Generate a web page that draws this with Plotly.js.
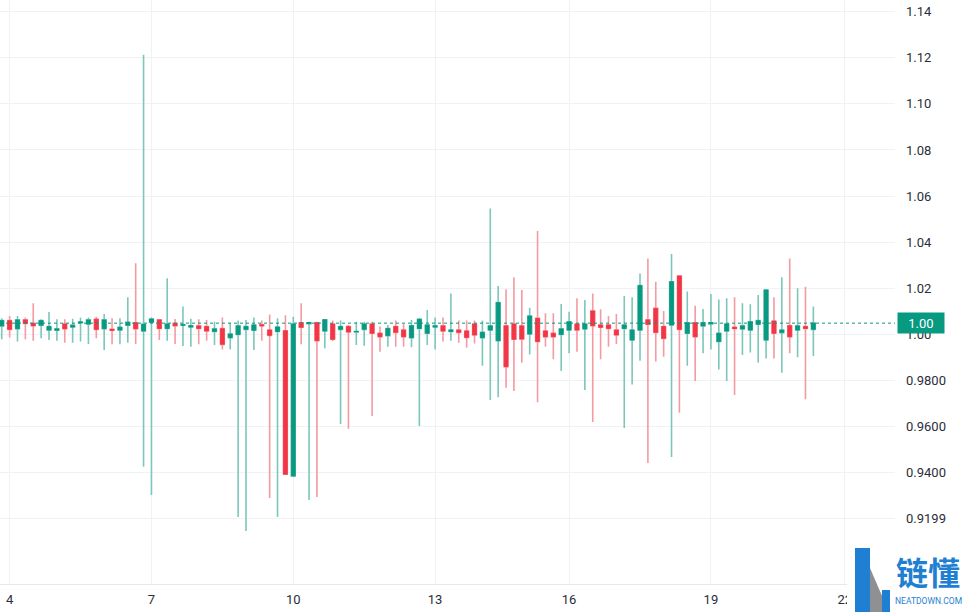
<!DOCTYPE html>
<html>
<head>
<meta charset="utf-8">
<script src="https://cdn.plot.ly/plotly-3.0.1.min.js"></script>
<style>html,body{margin:0;padding:0;background:#fff;}#chart{width:967px;height:616px;}</style>
</head>
<body>
<div id="chart"></div>
<script>
// 4-hour candles
const openV = [1.0036,1.0059,1.0024,1.0062,1.0047,1.0039,1.0018,1.0017,1.0044,1.0031,
1.0050,1.0044,1.0065,1.0024,1.0021,1.0018,1.0039,1.0050,1.0014,1.0052,
1.0062,1.0025,1.0047,1.0039,1.0031,1.0036,1.0033,1.0012,1.0024,0.9985,
0.9999,1.0021,1.0017,1.0041,1.0018,1.0012,1.0015,0.9384,1.0050,1.0046,
1.0050,1.0014,1.0044,1.0021,1.0033,1.0010,1.0021,1.0044,1.0004,0.9994,
1.0033,1.0018,0.9985,1.0025,1.0004,1.0031,1.0036,1.0012,1.0018,1.0014,
1.0044,0.9985,1.0018,0.9972,1.0036,1.0044,1.0036,1.0001,1.0069,1.0014,
1.0004,0.9999,1.0018,1.0044,1.0023,1.0101,1.0040,1.0040,1.0018,1.0025,
0.9975,1.0018,1.0062,1.0112,1.0033,1.0040,1.0253,1.0004,1.0050,1.0036,
1.0045,0.9968,1.0014,1.0030,1.0023,1.0018,1.0043,0.9975,1.0057,1.0007,
1.0037,1.0018,1.0033,1.0021];
const highV = [1.0069,1.0079,1.0079,1.0073,1.0134,1.0065,1.0096,1.0065,1.0065,1.0067,
1.0072,1.0072,1.0076,1.0088,1.0069,1.0069,1.0160,1.0308,1.1213,1.0072,
1.0064,1.0243,1.0066,1.0120,1.0067,1.0065,1.0062,1.0054,1.0072,1.0050,
1.0059,1.0062,1.0072,1.0059,1.0086,1.0069,1.0082,1.0076,1.0134,1.0054,
1.0054,1.0065,1.0059,1.0059,1.0040,1.0054,1.0054,1.0054,1.0033,1.0040,
1.0059,1.0044,1.0062,1.0069,1.0105,1.0073,1.0073,1.0177,1.0059,1.0059,
1.0059,1.0059,1.0546,1.0209,1.0195,1.0247,1.0192,1.0115,1.0448,1.0091,
1.0091,1.0131,1.0098,1.0156,1.0148,1.0177,1.0108,1.0079,1.0088,1.0166,
1.0160,1.0264,1.0329,1.0228,1.0101,1.0348,1.0255,1.0185,1.0124,1.0109,
1.0175,1.0151,1.0156,1.0160,1.0134,1.0130,1.0170,1.0194,1.0160,1.0247,
1.0329,1.0199,1.0206,1.0120];
const lowV = [0.9978,0.9986,0.9968,0.9978,0.9972,0.9982,0.9975,0.9972,0.9963,0.9963,
0.9968,0.9957,0.9982,0.9931,0.9956,0.9956,0.9963,0.9957,0.9424,0.9302,
0.9975,0.9972,0.9957,0.9949,0.9946,0.9956,0.9972,0.9953,0.9934,0.9934,
0.9206,0.9145,0.9931,0.9972,0.9289,0.9206,0.9390,0.9382,0.9956,0.9280,
0.9293,0.9939,0.9970,0.9610,0.9589,0.9953,0.9950,0.9645,0.9924,0.9946,
0.9946,0.9946,0.9943,0.9601,0.9953,0.9934,0.9968,0.9972,0.9963,0.9941,
0.9960,0.9863,0.9714,0.9726,0.9768,0.9753,0.9876,0.9912,0.9704,0.9946,
0.9891,0.9840,0.9917,0.9924,0.9758,0.9619,0.9891,0.9946,0.9957,0.9593,
0.9782,0.9885,0.9441,0.9881,0.9902,0.9467,0.9659,0.9863,0.9797,0.9917,
0.9934,0.9847,0.9797,0.9736,0.9910,0.9921,0.9876,0.9895,0.9895,0.9833,
0.9917,0.9900,0.9717,0.9905];
const closeV = [1.0059,1.0021,1.0062,1.0047,1.0037,1.0059,1.0033,1.0023,1.0024,1.0039,
1.0053,1.0062,1.0021,1.0062,1.0017,1.0030,1.0052,1.0024,1.0043,1.0066,
1.0025,1.0044,1.0037,1.0041,1.0037,1.0025,1.0014,1.0023,0.9956,1.0001,
1.0036,1.0033,1.0040,1.0037,0.9995,1.0031,0.9392,1.0044,1.0030,1.0050,
0.9972,1.0063,0.9978,1.0033,1.0010,1.0012,1.0044,1.0004,0.9989,1.0025,
1.0008,0.9989,1.0037,1.0065,1.0040,1.0036,1.0014,1.0018,1.0008,0.9986,
0.9997,1.0008,1.0036,1.0137,0.9859,0.9978,0.9979,1.0079,0.9968,0.9989,
0.9989,1.0023,1.0054,1.0018,1.0044,1.0037,1.0030,1.0025,0.9997,1.0040,
1.0018,1.0211,1.0043,1.0008,0.9982,1.0228,1.0021,1.0050,0.9989,1.0050,
1.0050,1.0004,1.0044,1.0025,1.0036,1.0054,1.0059,1.0192,1.0004,1.0018,
0.9989,1.0036,1.0025,1.0048];

// axis labels
const xTickVals = [1, 19, 37, 55, 72, 90, 107];
const xTickText = ['4', '7', '10', '13', '16', '19', '22'];
const yTickVals = [1.14, 1.12, 1.10, 1.08, 1.06, 1.04, 1.02, 1.00, 0.98, 0.96, 0.94, 0.92];
const yTickText = ['1.14', '1.12', '1.10', '1.08', '1.06', '1.04', '1.02', '1.00', '0.9800', '0.9600', '0.9400', '0.9199'];

const UP = '#089981', DOWN = '#f23645';
const UP_WICK = '#7cc7b9', DOWN_WICK = '#f49aa2';

const xIdx = openV.map((_, i) => i);
const bodyHigh = openV.map((o, i) => Math.max(o, closeV[i]));
const bodyLow = openV.map((o, i) => Math.min(o, closeV[i]));

const wicks = {
  type: 'candlestick', x: xIdx, open: openV, high: highV, low: lowV, close: closeV,
  increasing: {line: {color: UP_WICK, width: 1.6}, fillcolor: UP_WICK},
  decreasing: {line: {color: DOWN_WICK, width: 1.6}, fillcolor: DOWN_WICK},
  hoverinfo: 'skip', showlegend: false
};
const bodies = {
  type: 'candlestick', x: xIdx, open: openV, high: bodyHigh, low: bodyLow, close: closeV,
  increasing: {line: {color: UP, width: 0.8}, fillcolor: UP},
  decreasing: {line: {color: DOWN, width: 0.8}, fillcolor: DOWN},
  hoverinfo: 'skip', showlegend: false
};

const lastClose = closeV[closeV.length - 1];

// pixel -> paper helpers for the watermark (plot area 895 x 584)
const PW = 895, PH = 584;
const px = v => v / PW;
const py = v => (PH - v) / PH;
const tickFont = {family: 'Roboto, "Liberation Sans", sans-serif', size: 13, color: '#2a2e39'};

const layout = {
  width: 967, height: 616,
  margin: {l: 0, r: 72, t: 0, b: 32, pad: 0},
  paper_bgcolor: '#ffffff', plot_bgcolor: '#ffffff',
  showlegend: false,
  xaxis: {
    range: [-0.22, 113.36], tickvals: xTickVals, ticktext: xTickText,
    showgrid: true, gridcolor: '#f0f2f6', gridwidth: 1, zeroline: false,
    showline: true, linecolor: '#e6e8ee', linewidth: 1, ticks: '',
    tickfont: tickFont, ticklabelstandoff: 3,
    rangeslider: {visible: false}, fixedrange: true
  },
  yaxis: {
    side: 'right', range: [0.89153, 1.14512], tickvals: yTickVals, ticktext: yTickText,
    showgrid: true, gridcolor: '#f0f2f6', gridwidth: 1, zeroline: false,
    showline: false, ticks: '', tickfont: tickFont, ticklabelstandoff: 10, fixedrange: true
  },
  shapes: [
    {type: 'line', xref: 'paper', yref: 'y', x0: 0, x1: 1, y0: lastClose, y1: lastClose,
     line: {color: UP, width: 1, dash: 'dot'}, layer: 'above'},
    // watermark
    {type: 'rect', xref: 'paper', yref: 'paper', x0: px(847), x1: px(967), y0: py(616), y1: py(544),
     fillcolor: '#ffffff', line: {width: 0}, layer: 'above'},
    {type: 'rect', xref: 'paper', yref: 'paper', x0: px(855), x1: px(870), y0: py(612), y1: py(548),
     fillcolor: '#1f7fd2', line: {width: 0}, layer: 'above'},
    {type: 'path', xref: 'paper', yref: 'paper',
     path: `M ${px(870)} ${py(568)} L ${px(889)} ${py(612)} L ${px(870)} ${py(612)} Z`,
     fillcolor: '#8e9094', line: {width: 0}, layer: 'above'},
    {type: 'rect', xref: 'paper', yref: 'paper', x0: px(882), x1: px(890), y0: py(612), y1: py(590),
     fillcolor: '#1f7fd2', line: {width: 0}, layer: 'above'}
  ],
  annotations: [
    {xref: 'paper', yref: 'y', x: 1, y: lastClose, xanchor: 'left', yanchor: 'middle', xshift: 2,
     text: lastClose.toFixed(2), showarrow: false, bgcolor: UP, borderpad: 3, width: 40, height: 14,
     font: {family: 'Roboto, sans-serif', size: 13, color: '#ffffff'}},
    {xref: 'paper', yref: 'paper', x: px(928), y: py(571), xanchor: 'center', yanchor: 'middle',
     text: '<b>链懂</b>', showarrow: false,
     font: {family: '"Noto Sans CJK SC", sans-serif', size: 32, color: '#1f7fd2'}},
    {xref: 'paper', yref: 'paper', x: px(928), y: py(601), xanchor: 'center', yanchor: 'middle',
     text: 'NEATDOWN.COM', showarrow: false,
     font: {family: 'Roboto, sans-serif', size: 8.5, color: '#1f7fd2'}}
  ]
};

Plotly.newPlot('chart', [wicks, bodies], layout, {displayModeBar: false, staticPlot: true});
</script>
</body>
</html>
